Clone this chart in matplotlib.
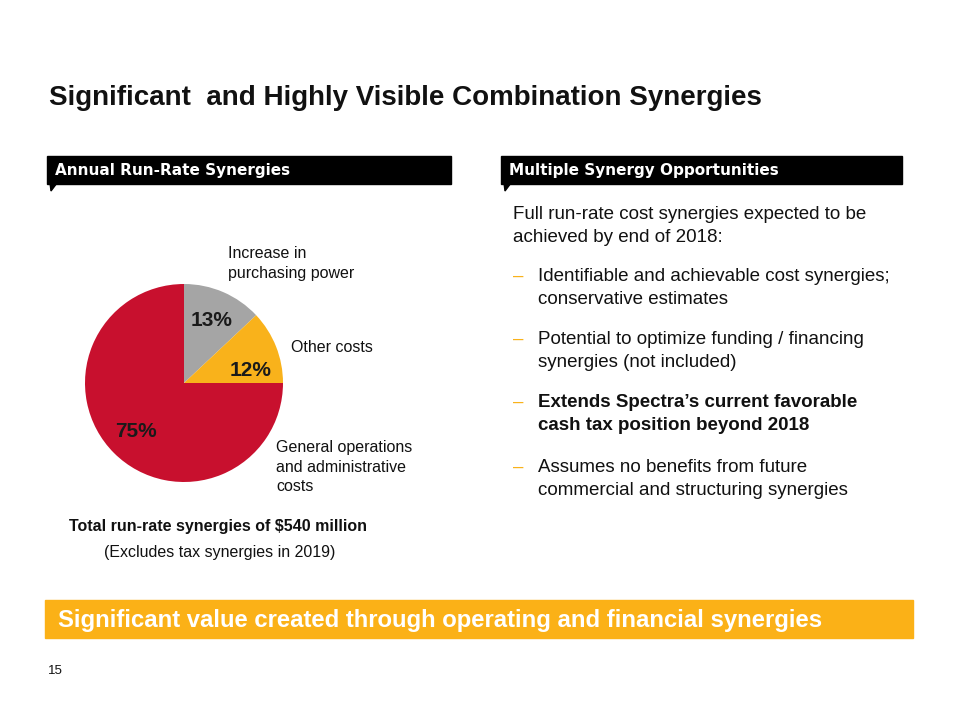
import matplotlib.pyplot as plt
from matplotlib.patches import Rectangle, Polygon

# data
categories = ['Increase in\npurchasing power', 'Other costs', 'General operations\nand administrative\ncosts']
shares = [13, 12, 75]
colors = ['#A5A5A5', '#F9B21B', '#C8102E']

title = 'Significant  and Highly Visible Combination Synergies'
left_header = 'Annual Run-Rate Synergies'
right_header = 'Multiple Synergy Opportunities'
intro = 'Full run-rate cost synergies expected to be\nachieved by end of 2018:'
bullets = [
    ('Identifiable and achievable cost synergies;\nconservative estimates', 'normal'),
    ('Potential to optimize funding / financing\nsynergies (not included)', 'normal'),
    ('Extends Spectra\u2019s current favorable\ncash tax position beyond 2018', 'bold'),
    ('Assumes no benefits from future\ncommercial and structuring synergies', 'normal'),
]
total_note = 'Total run-rate synergies of $540 million'
excl_note = '(Excludes tax synergies in 2019)'
banner = 'Significant value created through operating and financial synergies'
page_no = '15'

plt.rcParams['font.family'] = ['Liberation Sans', 'DejaVu Sans']

fig = plt.figure(figsize=(9.6, 7.2), dpi=100)
bg = fig.add_axes([0, 0, 1, 1])
bg.set_xlim(0, 960)
bg.set_ylim(720, 0)
bg.axis('off')

# title
bg.text(49, 98, title, fontsize=20, fontweight='bold', va='center', ha='left', color='#111111')

# header bars
for x0, x1, txt in [(47, 451, left_header), (501, 902, right_header)]:
    bg.add_patch(Rectangle((x0, 156), x1 - x0, 28, color='black'))
    bg.add_patch(Polygon([(x0 + 3, 183), (x0 + 10, 183), (x0 + 4, 191)], color='black'))
    bg.text(x0 + 8, 171, txt, color='white', fontsize=11, fontweight='bold',
            family=['DejaVu Sans'], va='center', ha='left')

# pie
pax = fig.add_axes([85 / 960, (720 - 482) / 720, 198 / 960, 198 / 720])
wedges, _, autotexts = pax.pie(shares, colors=colors, startangle=90, counterclock=False,
                               autopct=lambda p: '%d%%' % round(p), pctdistance=0.69,
                               wedgeprops=dict(linewidth=0))
for t in autotexts:
    t.set_fontsize(15)
    t.set_fontweight('bold')
    t.set_color('#1a1a1a')
# the small yellow slice label sits a bit lower in the original
x12, y12 = autotexts[1].get_position()
autotexts[1].set_position((x12 + 0.03, y12 - 0.13))
pax.set_xlim(-1, 1)
pax.set_ylim(-1, 1)
pax.set_aspect('equal')

# pie labels (top of first line)
label_pos = [(228, 246), (291, 340), (276, 440)]
for (lx, ly), txt in zip(label_pos, categories):
    bg.text(lx, ly, txt, fontsize=11.5, va='top', ha='left', linespacing=1.38, color='#111111')

bg.text(69, 527, total_note, fontsize=11.5, fontweight='bold', va='center', ha='left', color='#111111')
bg.text(104, 553, excl_note, fontsize=11.5, va='center', ha='left', color='#111111')

# right text (top of first line)
bg.text(513, 206, intro, fontsize=13.5, va='top', ha='left', linespacing=1.48, color='#111111')
yb = [268, 331, 394, 459]
for y, (txt, w) in zip(yb, bullets):
    bg.text(513, y, '\u2013', fontsize=13.5, va='top', ha='left', color='#F9B21B')
    bg.text(538, y, txt, fontsize=13.5, fontweight=w, va='top', ha='left', linespacing=1.48, color='#111111')

# banner
bg.add_patch(Rectangle((45, 600), 868, 38, color='#FBB117'))
bg.text(58, 620, banner, fontsize=17.2, fontweight='bold', color='white', va='center', ha='left')

bg.text(48, 671, page_no, fontsize=9.5, va='center', ha='left', color='#111111')

fig.savefig('out.png', dpi=100)
